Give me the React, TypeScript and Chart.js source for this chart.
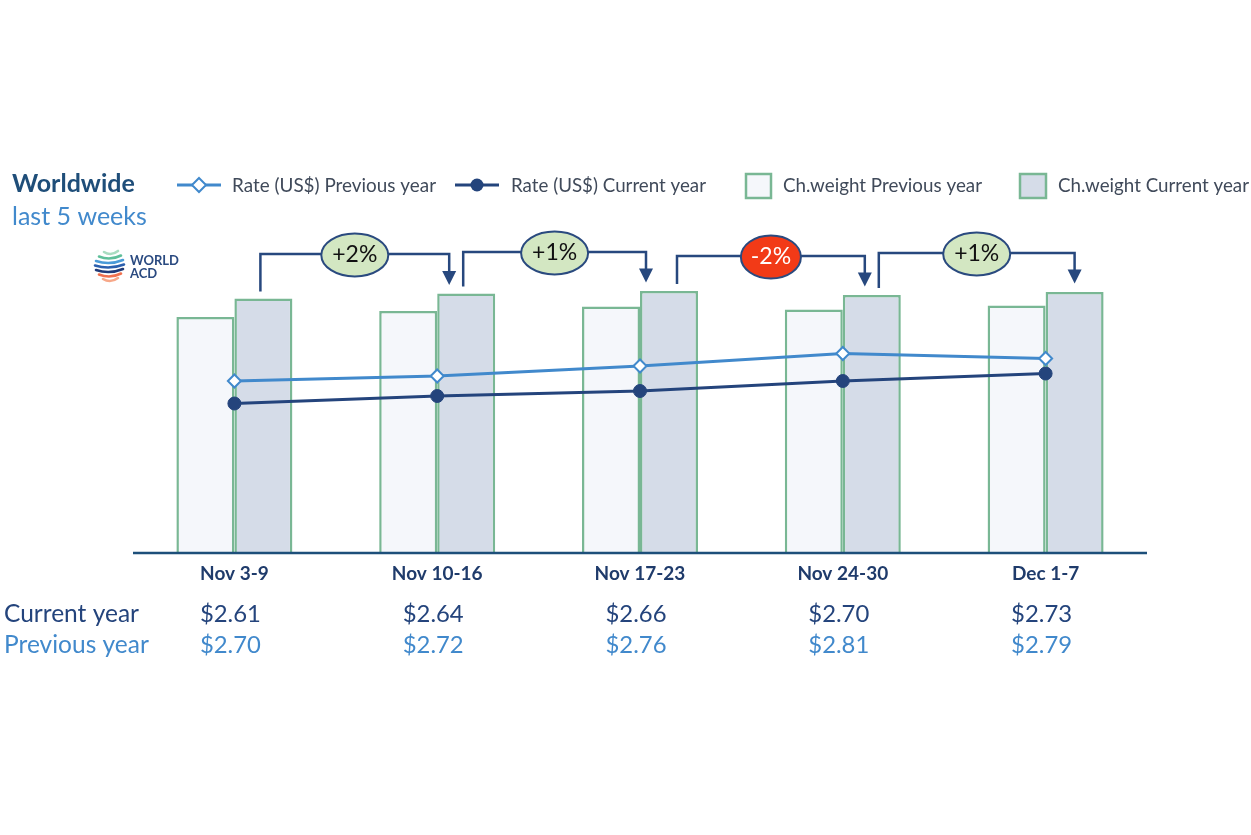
import React, { useEffect, useRef } from "react";
import { Chart, registerables } from "chart.js";

Chart.register(...registerables);

const weeks = ["Nov 3-9", "Nov 10-16", "Nov 17-23", "Nov 24-30", "Dec 1-7"];
const rateCurrent = [2.61, 2.64, 2.66, 2.7, 2.73];
const ratePrevious = [2.7, 2.72, 2.76, 2.81, 2.79];
const weightPrevious = [236, 242, 246.5, 243.5, 247.5];
const weightCurrent = [254.5, 259.5, 262, 258, 261];
const weekChange = ["+2%", "+1%", "-2%", "+1%"];

const FONT = "Lato, 'Open Sans', sans-serif";
const NAVY = "#24447c";
const LIGHT = "#4189cc";
const GREEN_BORDER = "#79b794";

// annotation styling (offsets relative to category centres)
const bracketLeftOff = [26, 26, 37, 36];
const bracketRightOff = [12, 6, 22, 29];
const bracketY = [254, 252, 256, 253];

const overlay = {
  id: "overlay",
  afterDraw(chart: any) {
    const ctx: CanvasRenderingContext2D = chart.ctx;
    const xs = chart.scales.x;
    const ys = chart.scales.y;
    const area = chart.chartArea;
    ctx.save();

    // baseline
    ctx.strokeStyle = "#1d4f7a";
    ctx.lineWidth = 2.5;
    ctx.beginPath();
    ctx.moveTo(area.left, area.bottom);
    ctx.lineTo(area.right, area.bottom);
    ctx.stroke();

    // title
    ctx.textBaseline = "middle";
    ctx.textAlign = "left";
    ctx.fillStyle = "#1f4e79";
    ctx.font = `bold 25px ${FONT}`;
    ctx.fillText("Worldwide", 12, 184, 129);
    ctx.fillStyle = LIGHT;
    ctx.font = `25px ${FONT}`;
    ctx.fillText("last 5 weeks", 12, 217, 139);

    // legend
    const ly = 185;
    ctx.font = `19px ${FONT}`;
    // prev rate
    ctx.strokeStyle = LIGHT;
    ctx.lineWidth = 3;
    ctx.beginPath();
    ctx.moveTo(177, ly);
    ctx.lineTo(221, ly);
    ctx.stroke();
    ctx.fillStyle = "#fff";
    ctx.lineWidth = 2;
    ctx.beginPath();
    ctx.moveTo(199, ly - 7);
    ctx.lineTo(206, ly);
    ctx.lineTo(199, ly + 7);
    ctx.lineTo(192, ly);
    ctx.closePath();
    ctx.fill();
    ctx.stroke();
    ctx.fillStyle = "#404a5a";
    ctx.fillText("Rate (US$) Previous year", 232, ly + 1, 204);
    // current rate
    ctx.strokeStyle = NAVY;
    ctx.lineWidth = 3;
    ctx.beginPath();
    ctx.moveTo(455, ly);
    ctx.lineTo(499, ly);
    ctx.stroke();
    ctx.fillStyle = NAVY;
    ctx.beginPath();
    ctx.arc(477, ly, 6.5, 0, Math.PI * 2);
    ctx.fill();
    ctx.fillStyle = "#404a5a";
    ctx.fillText("Rate (US$) Current year", 511, ly + 1, 195);
    // weight boxes
    ctx.lineWidth = 2.5;
    ctx.strokeStyle = GREEN_BORDER;
    ctx.fillStyle = "#f5f7fb";
    ctx.fillRect(746, 174, 25, 24);
    ctx.strokeRect(746, 174, 25, 24);
    ctx.fillStyle = "#404a5a";
    ctx.fillText("Ch.weight Previous year", 783, ly + 1, 199);
    ctx.fillStyle = "#d5dce8";
    ctx.fillRect(1020, 174, 26, 24);
    ctx.strokeRect(1020, 174, 26, 24);
    ctx.fillStyle = "#404a5a";
    ctx.fillText("Ch.weight Current year", 1058, ly + 1, 191);

    // logo
    const stripes = [
      { c: "#a9dcc1", l: 104, r: 118, y: 253 },
      { c: "#5fbf9a", l: 99, r: 121, y: 257.5 },
      { c: "#4a9ad8", l: 96, r: 123, y: 262 },
      { c: "#2b5fae", l: 95, r: 124, y: 266.5 },
      { c: "#1f3a78", l: 96, r: 123, y: 271 },
      { c: "#f0704e", l: 99, r: 121, y: 275.5 },
      { c: "#f7a889", l: 103, r: 118, y: 280 },
    ];
    ctx.lineWidth = 2.6;
    ctx.lineCap = "round";
    for (const s of stripes) {
      ctx.strokeStyle = s.c;
      ctx.beginPath();
      ctx.moveTo(s.l, s.y - 1);
      ctx.quadraticCurveTo((s.l + s.r) / 2, s.y + 3.5, s.r, s.y - 2);
      ctx.stroke();
    }
    ctx.lineCap = "butt";
    ctx.fillStyle = "#2a4a80";
    ctx.font = `bold 13px ${FONT}`;
    ctx.fillText("WORLD", 130, 261, 50);
    ctx.fillText("ACD", 130, 274, 30);

    // week-over-week brackets
    for (let i = 0; i < weekChange.length; i++) {
      const x0 = xs.getPixelForValue(i) + bracketLeftOff[i];
      const x1 = xs.getPixelForValue(i + 1) + bracketRightOff[i];
      const yb = ys.getPixelForValue(weightCurrent[i]) - 7;
      const tip = ys.getPixelForValue(weightCurrent[i + 1]) - 8.5;
      const hy = bracketY[i];
      ctx.strokeStyle = "#27487e";
      ctx.lineWidth = 2.5;
      ctx.beginPath();
      ctx.moveTo(x0, yb);
      ctx.lineTo(x0, hy);
      ctx.lineTo(x1, hy);
      ctx.lineTo(x1, tip - 13);
      ctx.stroke();
      ctx.fillStyle = "#27487e";
      ctx.beginPath();
      ctx.moveTo(x1 - 7, tip - 14);
      ctx.lineTo(x1 + 7, tip - 14);
      ctx.lineTo(x1, tip);
      ctx.closePath();
      ctx.fill();
      const cx = (x0 + x1) / 2;
      const neg = weekChange[i].startsWith("-");
      ctx.beginPath();
      ctx.ellipse(cx, hy + 1, neg ? 30 : 33.5, 21.5, 0, 0, Math.PI * 2);
      ctx.fillStyle = neg ? "#f23a17" : "#d3e7c2";
      ctx.fill();
      ctx.lineWidth = 2;
      ctx.strokeStyle = "#2a4a7f";
      ctx.stroke();
      ctx.fillStyle = neg ? "#ffffff" : "#111111";
      ctx.font = `23px ${FONT}`;
      ctx.textAlign = "center";
      ctx.fillText(weekChange[i], cx, hy + 1);
      ctx.textAlign = "left";
    }

    // category labels and table
    ctx.textAlign = "center";
    for (let i = 0; i < weeks.length; i++) {
      const x = xs.getPixelForValue(i);
      ctx.fillStyle = "#1f3b6b";
      ctx.font = `bold 19px ${FONT}`;
      ctx.fillText(weeks[i], x, 574);
      ctx.font = `24px ${FONT}`;
      ctx.fillStyle = NAVY;
      ctx.fillText("$" + rateCurrent[i].toFixed(2), x - 4, 614, 61);
      ctx.fillStyle = LIGHT;
      ctx.fillText("$" + ratePrevious[i].toFixed(2), x - 4, 645, 61);
    }
    ctx.textAlign = "left";
    ctx.font = `24.5px ${FONT}`;
    ctx.fillStyle = NAVY;
    ctx.fillText("Current year", 4, 614, 138);
    ctx.fillStyle = LIGHT;
    ctx.fillText("Previous year", 4, 645, 149);

    ctx.restore();
  },
};

export default function App() {
  const ref = useRef<HTMLCanvasElement | null>(null);
  useEffect(() => {
    if (!ref.current) return;
    const chart = new Chart(ref.current, {
      type: "bar",
      data: {
        labels: weeks,
        datasets: [
          {
            type: "line",
            label: "Rate (US$) Previous year",
            data: ratePrevious,
            yAxisID: "y1",
            borderColor: LIGHT,
            borderWidth: 3,
            pointStyle: "rectRot",
            pointRadius: 6.5,
            pointBackgroundColor: "#ffffff",
            pointBorderColor: LIGHT,
            pointBorderWidth: 2,
            tension: 0,
            order: 0,
          } as any,
          {
            type: "line",
            label: "Rate (US$) Current year",
            data: rateCurrent,
            yAxisID: "y1",
            borderColor: NAVY,
            borderWidth: 3,
            pointStyle: "circle",
            pointRadius: 6.5,
            pointBackgroundColor: NAVY,
            pointBorderColor: NAVY,
            pointBorderWidth: 1,
            tension: 0,
            order: 0,
          } as any,
          {
            type: "bar",
            label: "Ch.weight Previous year",
            data: weightPrevious,
            yAxisID: "y",
            backgroundColor: "#f5f7fb",
            borderColor: GREEN_BORDER,
            borderWidth: 2.5,
            categoryPercentage: 0.572,
            barPercentage: 1,
            order: 1,
          } as any,
          {
            type: "bar",
            label: "Ch.weight Current year",
            data: weightCurrent,
            yAxisID: "y",
            backgroundColor: "#d5dce8",
            borderColor: GREEN_BORDER,
            borderWidth: 2.5,
            categoryPercentage: 0.572,
            barPercentage: 1,
            order: 1,
          } as any,
        ],
      },
      options: {
        responsive: false,
        animation: false,
        layout: { padding: { left: 133, right: 104, top: 260, bottom: 282 } },
        plugins: { legend: { display: false }, tooltip: { enabled: false } },
        scales: {
          x: { display: false, offset: true },
          y: { display: false, min: 0, max: 293 },
          y1: { display: false, min: 2.012, max: 3.184 },
        },
      },
      plugins: [overlay],
    });
    return () => chart.destroy();
  }, []);
  return (
    <div style={{ position: "absolute", left: 0, top: 0, width: 1251, height: 835, background: "#fff" }}>
      <canvas ref={ref} width={1251} height={835} style={{ width: 1251, height: 835 }} />
    </div>
  );
}
